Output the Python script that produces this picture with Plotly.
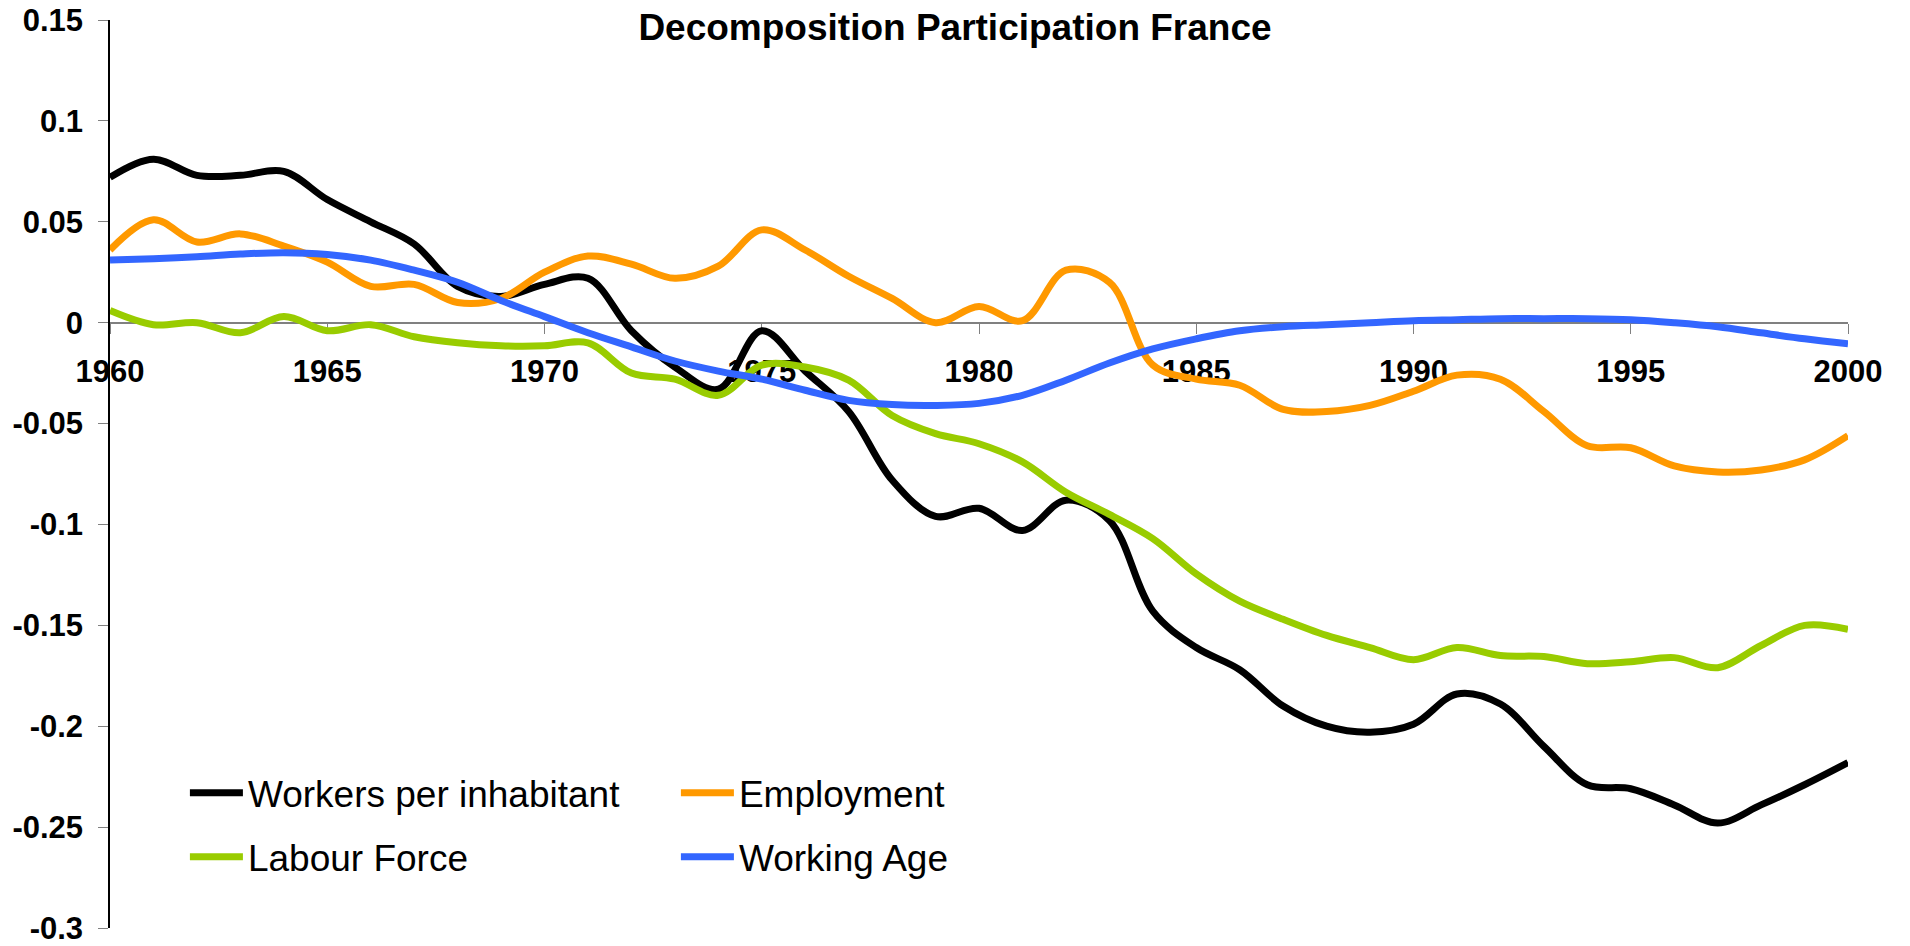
import plotly.graph_objects as go

years = list(range(1960, 2001))

workers = [0.072, 0.081, 0.073, 0.073, 0.075, 0.061, 0.050, 0.039, 0.018, 0.013,
           0.019, 0.022, -0.004, -0.022, -0.033, -0.004, -0.024, -0.044, -0.078, -0.096,
           -0.092, -0.103, -0.088, -0.098, -0.143, -0.161, -0.172, -0.190, -0.200, -0.203,
           -0.199, -0.184, -0.189, -0.210, -0.229, -0.231, -0.239, -0.248, -0.239, -0.229, -0.218]

employment = [0.036, 0.051, 0.040, 0.044, 0.038, 0.030, 0.018, 0.019, 0.010, 0.012,
              0.025, 0.033, 0.029, 0.022, 0.028, 0.046, 0.036, 0.023, 0.012, 0.000,
              0.008, 0.001, 0.026, 0.020, -0.021, -0.028, -0.031, -0.043, -0.044, -0.041,
              -0.034, -0.026, -0.028, -0.044, -0.061, -0.062, -0.071, -0.074, -0.073, -0.068, -0.056]

labour = [0.006, -0.001, 0.000, -0.005, 0.003, -0.004, -0.001, -0.007, -0.010, -0.0115,
          -0.0115, -0.010, -0.025, -0.028, -0.036, -0.021, -0.022, -0.0285, -0.046, -0.055,
          -0.060, -0.069, -0.084, -0.095, -0.107, -0.1245, -0.138, -0.147, -0.155, -0.161,
          -0.167, -0.161, -0.165, -0.1655, -0.169, -0.168, -0.166, -0.171, -0.160, -0.150, -0.152]

working = [0.031, 0.0317, 0.0327, 0.034, 0.0347, 0.0338, 0.031, 0.026, 0.020, 0.011,
           0.003, -0.005, -0.012, -0.019, -0.024, -0.028, -0.0335, -0.0385, -0.0406, -0.041,
           -0.040, -0.036, -0.0285, -0.020, -0.013, -0.008, -0.004, -0.002, -0.001, 0.000,
           0.001, 0.0015, 0.002, 0.002, 0.002, 0.0015, 0.000, -0.002, -0.005, -0.008, -0.0105]

series_names = ["Workers per inhabitant", "Employment", "Labour Force", "Working Age"]
series_colors = ["#000000", "#FF9900", "#99CC00", "#3366FF"]
series_values = [workers, employment, labour, working]
series_legends = ["legend", "legend", "legend2", "legend2"]

y_ticks = [0.15, 0.1, 0.05, 0, -0.05, -0.1, -0.15, -0.2, -0.25, -0.3]
y_labels = ["0.15", "0.1", "0.05", "0", "-0.05", "-0.1", "-0.15", "-0.2", "-0.25", "-0.3"]
x_ticks = [1960, 1965, 1970, 1975, 1980, 1985, 1990, 1995, 2000]

FONT = "Liberation Sans, Arial, sans-serif"

fig = go.Figure()
for name, color, vals, lg in zip(series_names, series_colors, series_values, series_legends):
    fig.add_trace(go.Scatter(
        x=years, y=vals, name=name, mode="lines",
        line=dict(color=color, width=7, shape="spline", smoothing=1),
        legend=lg,
    ))

ymin, ymax = -0.3, 0.15
tick_font = dict(family=FONT, size=31, color="black", weight="bold")
legend_font = dict(family=FONT, size=37, color="black")
fig.update_layout(
    width=1910, height=946,
    margin=dict(l=110, r=62, t=20, b=18),
    paper_bgcolor="white", plot_bgcolor="white",
    title=dict(text="<b>Decomposition Participation France</b>",
               x=0.5, xref="container", xanchor="center",
               y=1 - 27 / 946, yref="container", yanchor="middle",
               font=dict(family=FONT, size=37, color="black")),
    xaxis=dict(range=[1960, 2000], tickvals=x_ticks, ticktext=[str(t) for t in x_ticks],
               anchor="free", position=(0 - ymin) / (ymax - ymin),
               showline=True, linecolor="#808080", linewidth=2,
               ticks="outside", ticklen=10, tickcolor="#808080", tickwidth=1,
               ticklabelstandoff=11, automargin=False, ticklabeloverflow="allow",
               showgrid=False, zeroline=False, layer="below traces",
               tickfont=tick_font),
    yaxis=dict(range=[ymin, ymax], tickvals=y_ticks, ticktext=y_labels,
               showline=True, linecolor="black", linewidth=1.5,
               ticks="outside", ticklen=10, tickcolor="#808080", tickwidth=1,
               ticklabelstandoff=9, automargin=False, ticklabeloverflow="allow",
               showgrid=False, zeroline=False,
               tickfont=tick_font),
    legend=dict(orientation="h", x=0.0431, y=0.1485, xanchor="left", yanchor="middle",
                entrywidth=423, entrywidthmode="pixels", bgcolor="rgba(0,0,0,0)",
                font=legend_font, itemwidth=53),
    legend2=dict(orientation="h", x=0.0431, y=0.078, xanchor="left", yanchor="middle",
                 entrywidth=423, entrywidthmode="pixels", bgcolor="rgba(0,0,0,0)",
                 font=legend_font, itemwidth=53),
)

fig.write_html("out.html", config={"displayModeBar": False},
               post_script="document.body.style.margin='0';")
